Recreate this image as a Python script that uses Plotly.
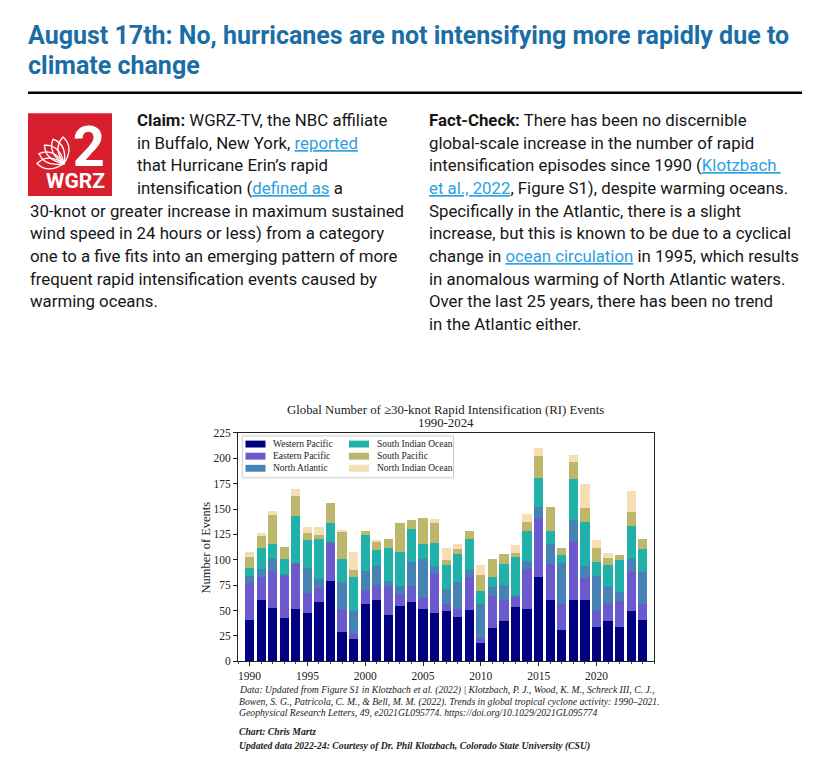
import math
import plotly.graph_objects as go

W, H = 836, 771


def px(x):
    return x / W


def py(y):
    return 1 - y / H


# ---------------- data ----------------
years = list(range(1990, 2025))
western_pacific = [41, 60, 53, 43, 52, 48, 58, 79, 29, 22, 56, 60, 46, 55, 58, 52, 48, 50, 44, 51,
                   18, 33, 40, 54, 52, 83, 60, 31, 60, 60, 34, 40, 34, 50, 41]
eastern_pacific = [36, 23, 36, 41, 44, 19, 14, 38, 23, 5, 14, 15, 27, 11, 16, 10, 39, 6, 8, 32,
                   5, 31, 20, 10, 39, 58, 36, 25, 59, 22, 16, 16, 25, 38, 15]
north_atlantic = [7, 8, 12, 2, 1, 25, 9, 1, 26, 23, 19, 19, 6, 8, 24, 39, 7, 15, 26, 7,
                  33, 9, 15, 1, 8, 11, 20, 41, 20, 12, 34, 17, 9, 13, 32]
south_indian = [8, 21, 15, 15, 46, 28, 40, 18, 23, 33, 35, 16, 33, 34, 32, 15, 23, 24, 28, 31,
                13, 10, 21, 38, 29, 29, 12, 8, 41, 43, 14, 22, 32, 32, 23]
south_pacific = [11, 11, 28, 12, 20, 6, 3, 20, 26, 7, 4, 8, 9, 28, 9, 25, 19, 5, 5, 7,
                 16, 18, 10, 4, 9, 21, 24, 7, 16, 14, 14, 7, 5, 14, 10]
north_indian = [5, 3, 4, 0, 7, 6, 8, 0, 2, 18, 0, 2, 0, 0, 0, 0, 4, 12, 5, 0,
                10, 0, 0, 8, 8, 8, 0, 0, 7, 24, 8, 5, 0, 21, 0]

series_names = ["Western Pacific", "Eastern Pacific", "North Atlantic",
                "South Indian Ocean", "South Pacific", "North Indian Ocean"]
series_values = [western_pacific, eastern_pacific, north_atlantic,
                 south_indian, south_pacific, north_indian]
x_tick_values = [1990, 1995, 2000, 2005, 2010, 2015, 2020]
y_tick_values = [0, 25, 50, 75, 100, 125, 150, 175, 200, 225]

# ---------------- styles ----------------
series_colors = ["#000080", "#6A5ACD", "#4682B4", "#20B2AA", "#BDB76B", "#F5DEB3"]
SERIF = "Liberation Serif"
SANS = "Roboto"
TXT = "#161616"
LINK = "#2E9FE0"
TITLE_BLUE = "#1B6DA6"

fig = go.Figure()
for name, vals, col in zip(series_names, series_values, series_colors):
    fig.add_trace(go.Bar(x=years, y=vals, name=name, marker=dict(color=col, line=dict(width=0)),
                         width=0.8, showlegend=False))

fig.update_layout(
    width=W, height=H, margin=dict(l=0, r=0, t=0, b=0),
    paper_bgcolor="white", plot_bgcolor="white",
    barmode="stack", showlegend=False,
    font=dict(family=SERIF, color="#222"),
    xaxis=dict(domain=[px(238), px(654.3)], range=[1989, 2025],
               tickmode="array", tickvals=x_tick_values, ticktext=[str(v) for v in x_tick_values],
               ticks="outside", ticklen=4, tickwidth=1, tickcolor="#222",
               minor=dict(tickmode="linear", tick0=1990, dtick=1, ticks="outside", ticklen=2,
                          tickwidth=1, tickcolor="#444"),
               showline=True, linecolor="#222", linewidth=1, mirror=True,
               showgrid=False, zeroline=False,
               tickfont=dict(family=SERIF, size=11.5, color="#222")),
    yaxis=dict(domain=[py(665.7), py(433.7)], range=[0, 225],
               tickmode="array", tickvals=y_tick_values,
               ticks="outside", ticklen=4, tickwidth=1, tickcolor="#222",
               showline=True, linecolor="#222", linewidth=1, mirror=True,
               showgrid=False, zeroline=False,
               tickfont=dict(family=SERIF, size=11.5, color="#222")),
)

ann = []
shapes = []


def text(x, y, s, size, family=SANS, color=TXT, xanchor="left", **kw):
    ann.append(dict(x=px(x), y=py(y), xref="paper", yref="paper", text=s, showarrow=False,
                    xanchor=xanchor, yanchor="middle", font=dict(family=family, size=size, color=color),
                    **kw))


def link(s):
    return f'<span style="color:{LINK}"><u>{s}</u></span>'


# ---------------- page header ----------------
text(26, 30, "<b>August 17th: No, hurricanes are not intensifying more rapidly due to</b>", 25,
     color=TITLE_BLUE)
text(26, 60, "<b>climate change</b>", 25, color=TITLE_BLUE)
shapes.append(dict(type="line", xref="paper", yref="paper", x0=px(28), x1=px(802), y0=py(88), y1=py(88),
                   line=dict(color="black", width=2.5)))

# ---------------- logo ----------------
shapes.append(dict(type="rect", xref="paper", yref="paper", x0=px(28), x1=px(112), y0=py(193), y1=py(109),
                   fillcolor="#D71F2E", line=dict(width=0)))
base = (64, 160)
for ang in [92, 114, 136, 158, 180]:
    a = math.radians(ang)
    L, w = 27, 5.5
    tx, ty = base[0] + L * math.cos(a), base[1] - L * math.sin(a)
    mx, my = base[0] + 0.6 * L * math.cos(a), base[1] - 0.6 * L * math.sin(a)
    nx, ny = -math.sin(a), -math.cos(a)
    c1 = (mx + w * 2 * nx, my + w * 2 * ny)
    c2 = (mx - w * 2 * nx, my - w * 2 * ny)
    path = (f"M {px(base[0])},{py(base[1])} Q {px(c1[0])},{py(c1[1])} {px(tx)},{py(ty)} "
            f"Q {px(c2[0])},{py(c2[1])} {px(base[0])},{py(base[1])} Z")
    shapes.append(dict(type="path", xref="paper", yref="paper", path=path,
                       line=dict(color="white", width=1.3), fillcolor="rgba(0,0,0,0)"))
ann.append(dict(x=px(107), y=py(150), xref="paper", yref="paper", showarrow=False,
                xanchor="right", yanchor="middle", align="right",
                text='<b><span style="font-size:56px">2</span><br><span style="font-size:21px">WGRZ</span></b>',
                font=dict(family=SANS, size=17, color="white")))

# ---------------- claim column ----------------
LH = 23
y0 = 116
claim_lines = [
    (135, "<b>Claim:</b> WGRZ-TV, the NBC affiliate"),
    (135, "in Buffalo, New York, " + link("reported")),
    (135, "that Hurricane Erin’s rapid"),
    (135, "intensification (" + link("defined as") + " a"),
    (28, "30-knot or greater increase in maximum sustained"),
    (28, "wind speed in 24 hours or less) from a category"),
    (28, "one to a five fits into an emerging pattern of more"),
    (28, "frequent rapid intensification events caused by"),
    (28, "warming oceans."),
]
for i, (x, s) in enumerate(claim_lines):
    text(x, y0 + i * LH, s, 16.8)

fact_lines = [
    "<b>Fact-Check:</b> There has been no discernible",
    "global-scale increase in the number of rapid",
    "intensification episodes since 1990 (" + link("Klotzbach "),
    link("et al., 2022") + ", Figure S1), despite warming oceans.",
    "Specifically in the Atlantic, there is a slight",
    "increase, but this is known to be due to a cyclical",
    "change in " + link("ocean circulation") + " in 1995, which results",
    "in anomalous warming of North Atlantic waters.",
    "Over the last 25 years, there has been no trend",
    "in the Atlantic either.",
]
for i, s in enumerate(fact_lines):
    text(427, y0 + i * LH, s, 16.8)

# ---------------- chart texts ----------------
text(446, 410.5, "Global Number of ≥30-knot Rapid Intensification (RI) Events", 12.8, family=SERIF,
     color="#222", xanchor="center")
text(446, 423.5, "1990-2024", 12.8, family=SERIF, color="#222", xanchor="center")
text(206, 550, "Number of Events", 12.5, family=SERIF, color="#222", xanchor="center", textangle=-90)

# legend (manual, matplotlib style)
shapes.append(dict(type="rect", xref="paper", yref="paper", x0=px(242.3), x1=px(453.5),
                   y0=py(479.3), y1=py(436.7), fillcolor="rgba(255,255,255,0.85)",
                   line=dict(color="#cccccc", width=1)))
col_x = [245.5, 349]
row_y = [445, 457.3, 469.6]
for i, (name, col) in enumerate(zip(series_names, series_colors)):
    cx = col_x[i // 3]
    ry = row_y[i % 3]
    shapes.append(dict(type="rect", xref="paper", yref="paper", x0=px(cx), x1=px(cx + 20),
                       y0=py(ry + 3.5), y1=py(ry - 3.5), fillcolor=col, line=dict(width=0)))
    text(cx + 25.5, ry, name, 9.5, family=SERIF, color="#222")

# footnotes
foot = [
    (695.0, "<i>Data: Updated from Figure S1 in Klotzbach et al. (2022) | Klotzbach, P. J., Wood, K. M., Schreck III, C. J.,</i>"),
    (706.5, "<i>Bowen, S. G., Patricola, C. M., &amp; Bell, M. M. (2022). Trends in global tropical cyclone activity: 1990–2021.</i>"),
    (718.0, "<i>Geophysical Research Letters, 49, e2021GL095774. https://doi.org/10.1029/2021GL095774</i>"),
    (736.5, "<b><i>Chart: Chris Martz</i></b>"),
    (751.5, "<b><i>Updated data 2022-24: Courtesy of Dr. Phil Klotzbach, Colorado State University (CSU)</i></b>"),
]
for y, s in foot:
    text(236.5, y, s, 9.7, family=SERIF, color="#222")

fig.update_layout(annotations=ann, shapes=shapes)
fig.write_html("out.html", config={"displayModeBar": False},
               post_script="document.body.style.margin='0';document.body.style.overflow='hidden';")
